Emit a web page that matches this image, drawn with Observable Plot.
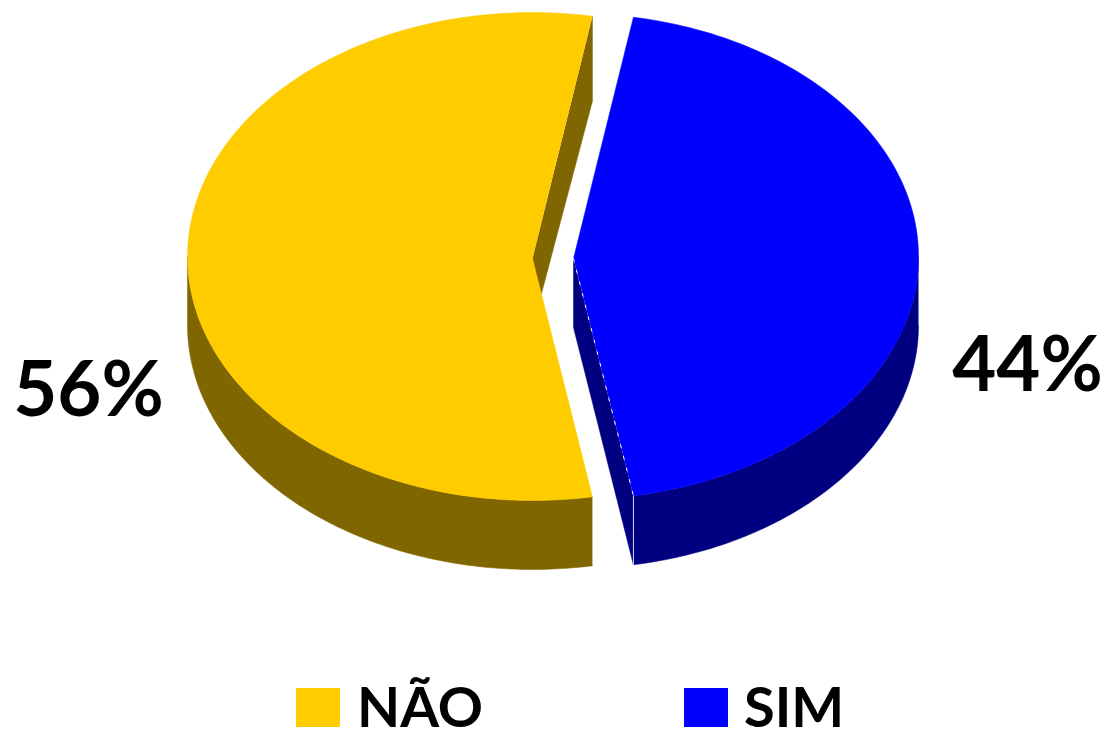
<!DOCTYPE html>
<html>
<head>
<meta charset="utf-8">
<script src="https://cdn.jsdelivr.net/npm/d3@7"></script>
<script src="https://cdn.jsdelivr.net/npm/@observablehq/plot@0.6"></script>
<style>
  html, body { margin: 0; padding: 0; background: #fff; }
  #chart svg { display: block; background: #fff; }
  #legend { position: relative; height: 56px; font: 700 56px Lato, sans-serif; color: #000; }
  #legend span { position: absolute; }
  #legend .sw { top: 13px; width: 44px; height: 39px; }
  #legend .lb { top: 6px; line-height: 50px; white-space: nowrap; }
</style>
</head>
<body>
<div id="chart"></div>
<div id="legend"></div>
<script>
const categories = ["NÃO", "SIM"];
const shares = [56, 44];
const labels = ["56%", "44%"];
const faceColors = ["#FFCC00", "#0000FF"];
const wallColors = ["#806600", "#000080"];

const W = 1107, H = 675;
const cy = 256, rx = 345;
const centers = {"NÃO": 532, "SIM": 573};
const radiiY = {"NÃO": 244, "SIM": 243};
const depth = 69, farDepth = 85;

// ellipse point for a clockwise angle from the top of the pie
const pt = (cat, deg, drop = 0) => {
  const a = deg * Math.PI / 180;
  return {x: centers[cat] + rx * Math.sin(a), y: cy - radiiY[cat] * Math.cos(a) + drop};
};
const deg = share => share * 3.6 * 1.0101; // slight perspective stretch
const half = deg(shares[1]) / 2;
const sa = 90 - half, sb = 90 + half; // SIM spans sa..sb, NÃO spans sb..sa+360
const arc = (cat, a, b, drop = 0) => d3.range(0, 121).map(i => pt(cat, a + (b - a) * i / 120, drop));
const apex = (cat, drop = 0) => ({x: centers[cat], y: cy + 2 + drop});

const poly = (pts, fill) => Plot.line(pts, {x: "x", y: "y", fill, stroke: fill, strokeWidth: 0.5, curve: "linear"});

const [N, S] = categories;
const marks = [
  // NÃO walls
  poly([...arc(N, sb, 270), ...arc(N, 270, sb, depth)], wallColors[0]),
  poly([pt(N, sa), {...pt(N, sa), y: pt(N, sa).y + farDepth}, apex(N, depth), apex(N)], wallColors[0]),
  // NÃO face
  poly([apex(N), ...arc(N, sb, sa + 360)], faceColors[0]),
  // SIM walls
  poly([apex(S), apex(S, depth), pt(S, sb, depth), pt(S, sb)], wallColors[1]),
  poly([...arc(S, 90, sb), ...arc(S, sb, 90, depth)], wallColors[1]),
  // SIM face
  poly([apex(S), ...arc(S, sa, sb)], faceColors[1]),
  // light seams on the SIM cut
  Plot.line([apex(S), pt(S, sb)], {x: "x", y: "y", stroke: "#fff", strokeWidth: 1, strokeDasharray: "3,9"}),
  Plot.line([pt(S, sb), pt(S, sb, depth)], {x: "x", y: "y", stroke: "#d8d8f0", strokeWidth: 1}),
  // percentages
  Plot.text([{x: 88, y: 391, t: labels[0]}, {x: 1027, y: 366, t: labels[1]}], {
    x: "x", y: "y", text: "t", fontSize: 76, fontWeight: 700, fontFamily: "Lato, sans-serif",
    fill: "#000", textAnchor: "middle", lineAnchor: "middle"
  })
];

const plot = Plot.plot({
  width: W, height: H,
  margin: 0,
  x: {domain: [0, W], range: [0, W], axis: null},
  y: {domain: [0, H], range: [0, H], axis: null},
  marks
});
document.getElementById("chart").appendChild(plot);

const legendX = [{sw: 296, lb: 357}, {sw: 684, lb: 744}];
const legend = document.getElementById("legend");
categories.forEach((c, i) => {
  const s = document.createElement("span");
  s.className = "sw";
  s.style.left = legendX[i].sw + "px";
  s.style.background = faceColors[i];
  const t = document.createElement("span");
  t.className = "lb";
  t.style.left = legendX[i].lb + "px";
  t.textContent = c;
  legend.append(s, t);
});
</script>
</body>
</html>
